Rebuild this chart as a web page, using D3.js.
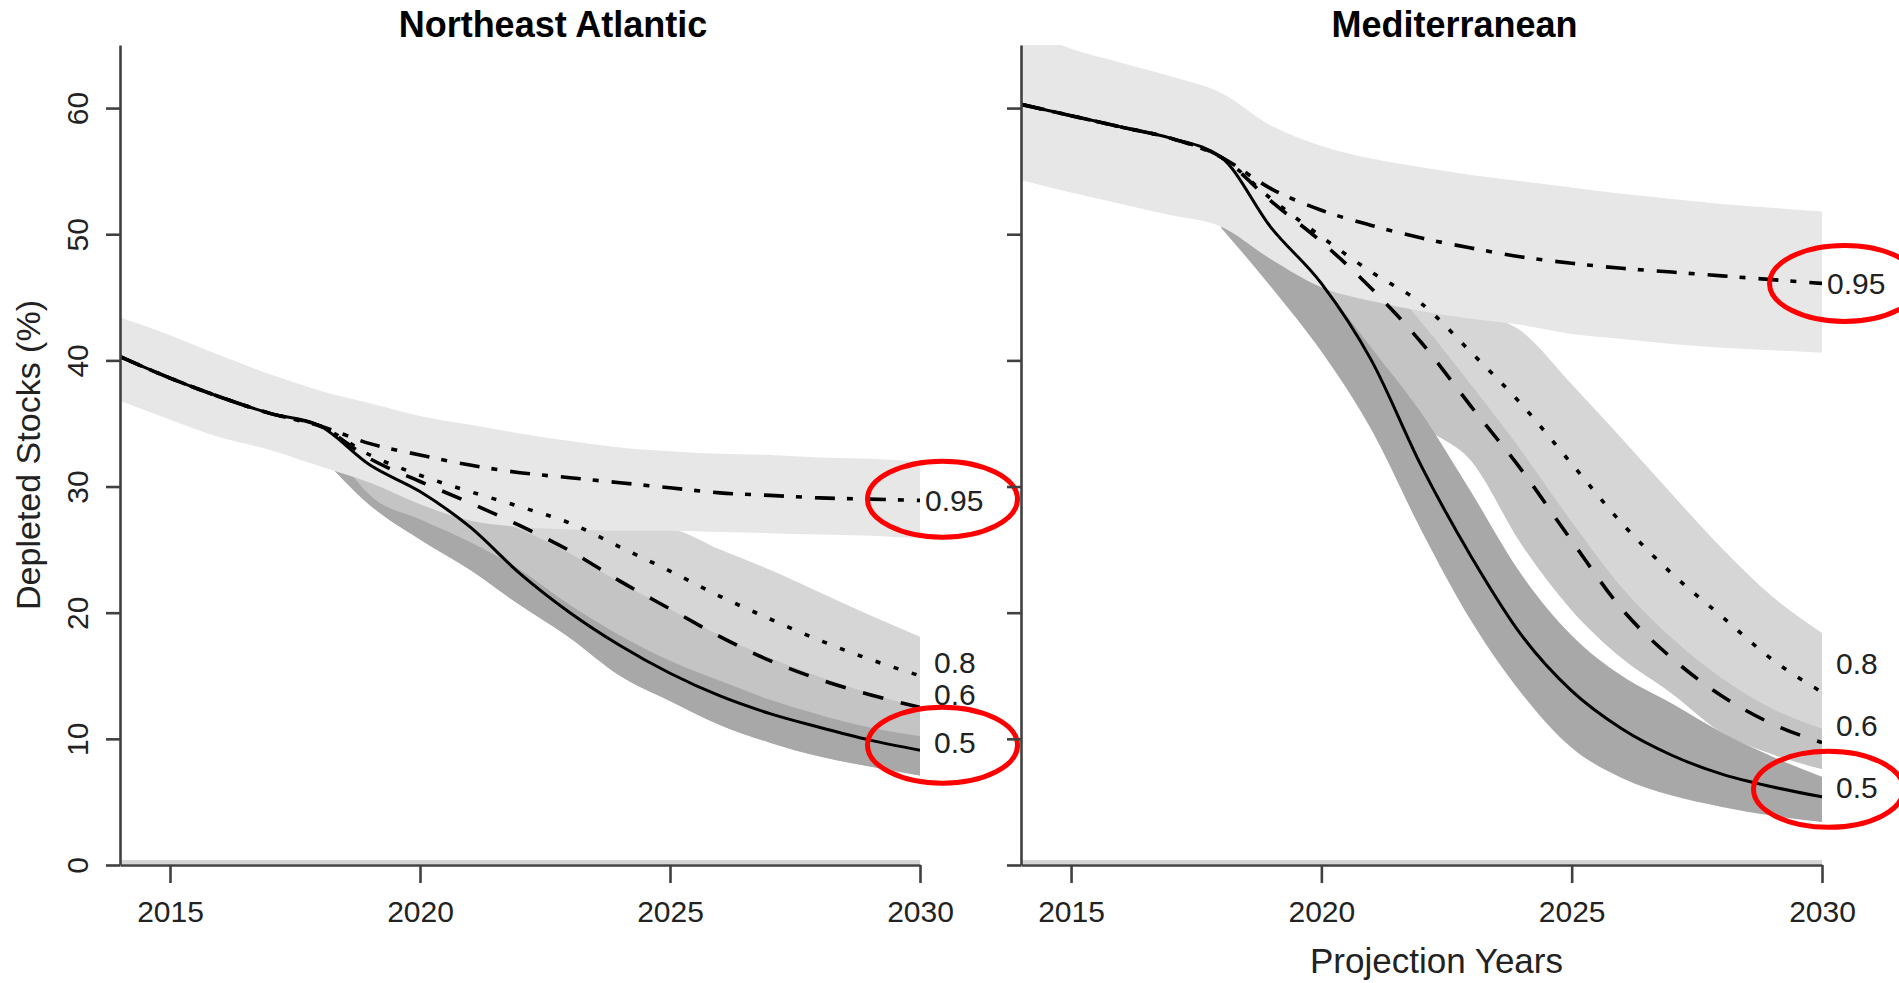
<!DOCTYPE html>
<html><head><meta charset="utf-8">
<script src="https://cdn.jsdelivr.net/npm/d3@7/dist/d3.min.js"></script>
<style>
html,body{margin:0;padding:0;background:#fff;}
svg{display:block;font-family:"Liberation Sans",Arial,sans-serif;}
</style>
</head><body>
<svg id="chart" width="1899" height="983"></svg>
<script>
// ---------------- DATA ----------------
const years     = [2014,2015,2016,2017,2018,2019,2020,2021,2022,2023,2024,2025,2026,2027,2028,2029,2030];
const projYears = [2018,2019,2020,2021,2022,2023,2024,2025,2026,2027,2028,2029,2030];
const scenarioLabels = ["0.95","0.8","0.6","0.5"];
const xTickValues = [2015,2020,2025,2030];
const yTickValues = [0,10,20,30,40,50,60];
const panelTitles = ["Northeast Atlantic","Mediterranean"];
const yAxisTitle = "Depleted Stocks (%)";
const xAxisTitle = "Projection Years";

// Northeast Atlantic – median lines (years)
const neaLine095 = [40.3,38.6,37.1,35.8,34.8,33.4,32.5,31.7,31.1,30.7,30.3,29.9,29.5,29.3,29.1,29.0,28.9];
const neaLine080 = [40.3,38.6,37.1,35.8,34.8,32.5,30.9,29.6,28.4,27.1,25.2,23.3,21.3,19.5,17.8,16.3,15.0];
const neaLine060 = [40.3,38.6,37.1,35.8,34.8,32.2,30.4,28.7,26.9,24.9,22.5,20.3,18.1,16.2,14.7,13.5,12.5];
const neaLine050 = [40.3,38.6,37.1,35.8,34.8,31.7,29.6,26.8,23.1,20.0,17.4,15.2,13.4,12.0,10.9,9.9,9.1];
// Northeast Atlantic – bands (0.95 over years, others over projYears)
const neaBand095Lo = [36.8,35.3,33.9,32.9,31.6,30.3,28.6,27.3,26.8,26.6,26.5,26.5,26.4,26.3,26.2,26.1,25.9];
const neaBand095Hi = [43.4,42.0,40.4,38.9,37.6,36.6,35.6,34.9,34.2,33.6,33.1,32.8,32.6,32.5,32.3,32.2,32.0];
const neaBand080Lo = [32.5,28.6,25.8,23.4,20.6,18.0,15.0,13.0,11.1,9.7,8.6,7.8,7.1];
const neaBand080Hi = [34.8,31.0,29.0,27.5,27.0,26.8,26.7,26.6,25.0,23.4,21.6,19.8,18.1];
const neaBand060Lo = [32.5,28.6,25.8,23.4,20.6,18.0,15.0,13.0,11.1,9.7,8.6,7.8,7.1];
const neaBand060Hi = [34.8,31.5,29.5,28.0,26.6,24.7,22.4,20.3,18.2,16.4,14.9,13.6,12.5];
const neaBand050Lo = [32.5,28.5,25.8,23.4,20.6,18.0,15.0,13.0,11.1,9.7,8.6,7.8,7.1];
const neaBand050Hi = [34.8,29.3,27.4,25.6,23.4,20.6,18.2,16.2,14.6,13.1,11.9,10.9,10.2];
const neaLabelValues = [28.9,16.1,13.5,9.7];
const neaEllipseValues = [29.0,9.5];

// Mediterranean – median lines (years)
const medLine095 = [60.3,59.4,58.5,57.6,56.1,53.6,51.9,50.7,49.7,48.9,48.2,47.7,47.3,47.0,46.7,46.4,46.1];
const medLine080 = [60.3,59.4,58.5,57.6,56.1,52.8,49.8,47.0,44.5,40.6,36.5,31.8,27.1,23.1,19.7,16.3,13.7];
const medLine060 = [60.3,59.4,58.5,57.6,56.1,52.6,49.4,45.7,41.4,36.3,31.3,25.7,20.3,16.4,13.4,11.2,9.7];
const medLine050 = [60.3,59.4,58.5,57.6,56.1,50.5,46.1,40.0,31.6,24.4,18.2,13.8,10.8,8.7,7.2,6.2,5.4];
// Mediterranean – bands
const medBand095Lo = [54.3,53.3,52.4,51.5,50.6,48.0,45.8,44.7,43.9,43.3,42.8,42.1,41.7,41.3,41.0,40.8,40.6];
const medBand095Hi = [66.5,64.7,63.6,62.5,61.2,58.6,57.0,56.0,55.3,54.7,54.2,53.7,53.2,52.8,52.4,52.1,51.8];
const medBand080Lo = [50.5,50.0,46.0,40.0,35.0,32.0,25.4,20.2,16.4,13.6,10.5,8.8,7.6];
const medBand080Hi = [56.1,54.0,52.0,49.0,46.0,44.0,42.3,38.1,33.8,29.4,25.1,21.3,18.4];
const medBand060Lo = [50.5,50.0,46.0,40.0,35.0,32.0,25.4,20.2,16.4,13.6,10.5,8.8,7.6];
const medBand060Hi = [56.1,53.0,50.8,47.5,43.0,38.0,32.8,27.2,22.0,18.0,14.8,12.4,10.8];
const medBand050Lo = [50.5,45.8,40.7,34.5,26.5,19.3,13.6,9.3,6.9,5.5,4.6,3.9,3.4];
const medBand050Hi = [56.1,52.3,46.3,41.0,35.8,29.5,23.0,18.2,15.0,12.8,10.5,8.6,7.0];
const medLabelValues = [46.1,16.0,11.1,6.2];
const medEllipseValues = [46.1,6.0];

// ---------------- STYLE ----------------
const bandFill = {"0.95":"#e7e7e7","0.8":"#d6d6d6","0.6":"#c4c4c4","0.5":"#a8a8a8"};
const lineDash = {"0.95":"20,12,6,13","0.8":"5,14","0.6":"21,18","0.5":null};
const lineWidth = {"0.95":3.6,"0.8":3.6,"0.6":3.6,"0.5":3};
const labelDx = {"0.95":5,"0.8":14,"0.6":14,"0.5":14};

const panels = [
  { id:"nea", title:panelTitles[0], xr:[120,920], showY:true, showX:false,
    lines:{"0.95":neaLine095,"0.8":neaLine080,"0.6":neaLine060,"0.5":neaLine050},
    bands:{"0.95":[years,neaBand095Lo,neaBand095Hi],"0.8":[projYears,neaBand080Lo,neaBand080Hi],
           "0.6":[projYears,neaBand060Lo,neaBand060Hi],"0.5":[projYears,neaBand050Lo,neaBand050Hi]},
    labels:neaLabelValues, ellipses:[{yr:2030.45,v:neaEllipseValues[0]},{yr:2030.45,v:neaEllipseValues[1]}] },
  { id:"med", title:panelTitles[1], xr:[1021,1822], showY:false, showX:true,
    lines:{"0.95":medLine095,"0.8":medLine080,"0.6":medLine060,"0.5":medLine050},
    bands:{"0.95":[years,medBand095Lo,medBand095Hi],"0.8":[projYears,medBand080Lo,medBand080Hi],
           "0.6":[projYears,medBand060Lo,medBand060Hi],"0.5":[projYears,medBand050Lo,medBand050Hi]},
    labels:medLabelValues, ellipses:[{yr:2030.45,v:medEllipseValues[0]},{yr:2030.13,v:medEllipseValues[1]}] }
];

const svg = d3.select("#chart");
svg.append("rect").attr("width",1899).attr("height",983).attr("fill","#fff");

panels.forEach(p => {
  const x = d3.scaleLinear().domain([2014,2030]).range(p.xr);
  const y = d3.scaleLinear().domain([0,65]).range([865,45]);
  const g = svg.append("g");

  const clipId = "clip-" + p.id;
  svg.append("defs").append("clipPath").attr("id",clipId)
    .append("rect").attr("x",x(2014)).attr("y",y(65)).attr("width",x(2030)-x(2014)).attr("height",y(0)-y(65));

  const plot = g.append("g").attr("clip-path","url(#"+clipId+")");

  // bands: 0.8, 0.6, 0.5 first, then 0.95 on top
  ["0.8","0.6","0.5","0.95"].forEach(s => {
    const [yrs, lo, hi] = p.bands[s];
    const area = d3.area().curve(d3.curveMonotoneX)
      .x((d,i)=>x(yrs[i])).y0((d,i)=>y(lo[i])).y1((d,i)=>y(hi[i]));
    plot.append("path").datum(yrs).attr("d",area).attr("fill",bandFill[s]).attr("stroke","none");
  });

  // light strip along zero line
  g.append("rect").attr("x",x(2014)).attr("y",y(0)-5).attr("width",x(2030)-x(2014)).attr("height",4).attr("fill","#d6d6d6");

  // lines
  scenarioLabels.forEach(s => {
    const vals = p.lines[s];
    const line = d3.line().curve(d3.curveMonotoneX).x((d,i)=>x(years[i])).y(d=>y(d));
    const path = plot.append("path").datum(vals).attr("d",line).attr("fill","none")
      .attr("stroke","#000").attr("stroke-width",lineWidth[s]).attr("stroke-linejoin","round");
    if (lineDash[s]) path.attr("stroke-dasharray",lineDash[s]);
  });

  // axes
  const yAxis = d3.axisLeft(y).tickValues(yTickValues).tickSize(14).tickSizeOuter(0)
    .tickFormat(p.showY ? d3.format("d") : () => "");
  const ya = g.append("g").attr("transform","translate("+x(2014)+",0)").call(yAxis);
  ya.selectAll("text").attr("x",null).attr("dy",null).attr("text-anchor","middle")
    .attr("transform","translate(-32,0) rotate(-90)").attr("font-size",30).attr("fill","#222")
    .attr("font-family","'Liberation Sans',Arial,sans-serif");

  const xAxis = d3.axisBottom(x).tickValues(xTickValues).tickSize(18).tickSizeOuter(0).tickFormat(d3.format("d"));
  const xa = g.append("g").attr("transform","translate(0,"+y(0)+")").call(xAxis);
  xa.selectAll("text").attr("y",57).attr("dy",null).attr("font-size",30).attr("fill","#222")
    .attr("font-family","'Liberation Sans',Arial,sans-serif");

  [ya,xa].forEach(a => {
    a.select(".domain").attr("stroke","#404040").attr("stroke-width",2.6);
    a.selectAll(".tick line").attr("stroke","#404040").attr("stroke-width",2.6);
  });

  // end labels
  scenarioLabels.forEach((s,i) => {
    g.append("text").attr("x",x(2030)+labelDx[s]).attr("y",y(p.labels[i])).attr("dy","0.36em")
      .attr("font-size",30).attr("fill","#222").text(s);
  });

  // red ellipses
  p.ellipses.forEach(e => {
    g.append("ellipse").attr("cx",x(e.yr)).attr("cy",y(e.v)).attr("rx",75).attr("ry",38)
      .attr("fill","none").attr("stroke","#ff0000").attr("stroke-width",5);
  });

  // title
  g.append("text").attr("x",(p.xr[0]+p.xr[1])/2+33).attr("y",37).attr("text-anchor","middle")
    .attr("font-size",36).attr("font-weight","bold").attr("fill","#000").text(p.title);

  if (p.showY) {
    g.append("text").attr("transform","translate(40,"+((y(0)+y(65))/2)+") rotate(-90)")
      .attr("text-anchor","middle").attr("font-size",34).attr("fill","#222").text(yAxisTitle);
  }
  if (p.showX) {
    g.append("text").attr("x",(p.xr[0]+p.xr[1])/2+15).attr("y",973).attr("text-anchor","middle")
      .attr("font-size",35).attr("fill","#222").text(xAxisTitle);
  }
});
</script>
</body></html>
